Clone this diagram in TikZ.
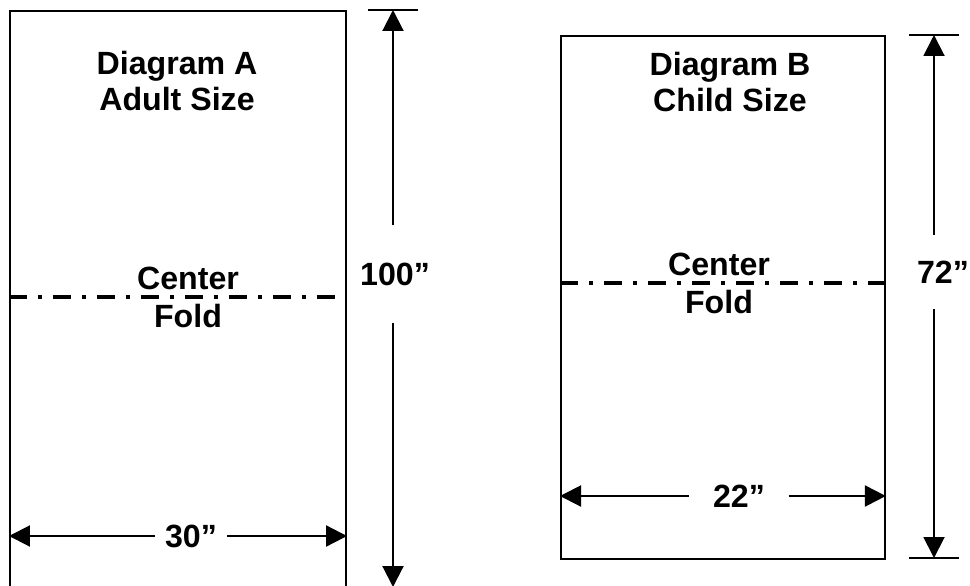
\documentclass[tikz,border=0pt]{standalone}
\usepackage{fontspec}
\setmainfont{Liberation Sans}
\usetikzlibrary{arrows.meta}

\tikzset{
  sheet/.style={draw, line width=1.2pt, anchor=north west, inner sep=0pt},
  dim/.style={-{Triangle[length=0.42cm,width=0.42cm]}, line width=1.2pt},
  fold/.style={line width=2pt, dash pattern=on 0.36cm off 0.22cm on 0.08cm off 0.22cm},
  lbl/.style={font=\fontsize{18.3}{20}\selectfont\bfseries, align=center, inner sep=0pt},
  foldlbl/.style={lbl, font=\fontsize{18.3}{21.6}\selectfont\bfseries},
}

\begin{document}
\begin{tikzpicture}[x=0.02cm,y=-0.02cm]
\clip (0,0) rectangle (970,585);
% the two sheets
\node[sheet, minimum width=6.72cm, minimum height=12.4cm] (sheetA) at (9,10) {};
\node[sheet, line width=1.1pt, minimum width=6.48cm, minimum height=10.46cm] (sheetB) at (560,35) {};
\node[lbl] (titleA) at (177,81) {Diagram A\\Adult Size};
\node[lbl] (titleB) at (730,82) {Diagram B\\Child Size};
% center folds
\node[foldlbl] (foldA) at (188,297) {Center\\Fold};
\node[foldlbl] (foldB) at (719,283) {Center\\Fold};
\draw[fold] (foldA.center -| sheetA.west) -- (foldA.center -| sheetA.east);
\draw[fold] (foldB.center -| sheetB.west) -- (foldB.center -| sheetB.east);
% widths
\node[lbl, inner xsep=0.2cm] (widthA) at (191,536) {30”};
\draw[dim] (widthA.west) -- (widthA.west -| sheetA.west);
\draw[dim] (widthA.east) -- (widthA.east -| sheetA.east);
\node[lbl, minimum width=1.98cm] (widthB) at (739,496) {22”};
\draw[dim] (widthB.west) -- (widthB.west -| sheetB.west);
\draw[dim] (widthB.east) -- (widthB.east -| sheetB.east);
% lengths
\coordinate (topA) at (393,10);
\coordinate (botA) at (393,587);
\node[lbl, minimum height=1.94cm] (lenA) at (395,274) {100”};
\draw[dim] (lenA.north -| topA) -- (topA);
\draw[dim] (lenA.south -| botA) -- (botA);
\draw[line width=1.2pt] (topA) ++(-25,0) -- ++(50,0);
\coordinate (topB) at (934,35);
\coordinate (botB) at (934,558);
\node[lbl, minimum height=1.48cm] (lenB) at (943,272) {72”};
\draw[dim, line width=1.1pt] (lenB.north -| topB) -- (topB);
\draw[dim, line width=1.1pt] (lenB.south -| botB) -- (botB);
\foreach \c in {topB,botB}
  \draw[line width=1.2pt] (\c) ++(-25,0) -- ++(50,0);
\end{tikzpicture}
\end{document}
